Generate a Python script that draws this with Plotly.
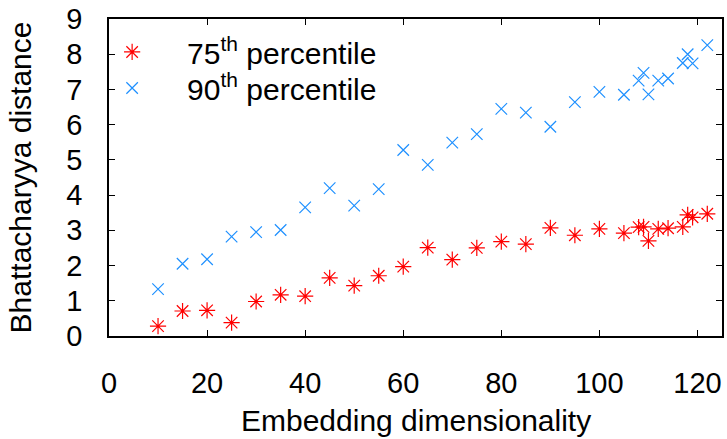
import plotly.graph_objects as go

dims = [10, 15, 20, 25, 30, 35, 40, 45, 50, 55, 60, 65, 70, 75, 80, 85, 90, 95,
        100, 105, 108, 109, 110, 112, 114, 117, 118, 119, 122]
p75 = [0.28, 0.71, 0.73, 0.38, 0.98, 1.17, 1.13, 1.65, 1.43, 1.71, 1.97, 2.51,
       2.17, 2.50, 2.68, 2.61, 3.07, 2.86, 3.04, 2.92, 3.09, 3.10, 2.70, 3.04,
       3.06, 3.10, 3.44, 3.37, 3.47]
p90 = [1.33, 2.05, 2.18, 2.82, 2.95, 3.01, 3.65, 4.20, 3.70, 4.17, 5.28, 4.86,
       5.49, 5.73, 6.45, 6.34, 5.94, 6.64, 6.93, 6.85, 7.25, 7.47, 6.86, 7.25,
       7.31, 7.75, 8.00, 7.74, 8.26]

x_ticks = [0, 20, 40, 60, 80, 100, 120]
y_ticks = list(range(0, 10))
x_title = "Embedding dimensionality"
y_title = "Bhattacharyya distance"

FONT = "Liberation Sans, Arial, sans-serif"

fig = go.Figure()
fig.add_trace(go.Scatter(
    x=dims, y=p75, mode="markers", name="75<sup>th</sup> percentile",
    legend="legend",
    marker=dict(symbol="asterisk-open", size=13.5, color="#ff0000",
                line=dict(color="#ff0000", width=1.2)),
))
fig.add_trace(go.Scatter(
    x=dims, y=p90, mode="markers", name="90<sup>th</sup> percentile",
    legend="legend2",
    marker=dict(symbol="x-thin-open", size=11.5, color="#1e90ff",
                line=dict(color="#1e90ff", width=1.2)),
))

axis_common = dict(
    showline=True, linecolor="black", linewidth=1.5, mirror="ticks",
    ticks="inside", ticklen=6, tickwidth=1, tickcolor="black",
    showgrid=False, zeroline=False, automargin=False,
    tickfont=dict(family=FONT, size=29, color="black"),
)

legend_common = dict(
    xanchor="left", yanchor="top", bgcolor="rgba(0,0,0,0)", borderwidth=0,
    itemwidth=100, font=dict(family=FONT, size=30, color="black"),
)

fig.update_layout(
    width=727, height=439,
    margin=dict(l=109, r=5, t=19, b=103, autoexpand=False),
    paper_bgcolor="white", plot_bgcolor="white",
    font=dict(family=FONT, color="black"),
    xaxis=dict(range=[0, 125], tickvals=x_ticks, ticklabelstandoff=20,
               **axis_common),
    yaxis=dict(range=[0, 9], tickvals=y_ticks, ticklabelstandoff=19,
               title=dict(text=y_title, standoff=26,
                          font=dict(family=FONT, size=30, color="black")),
               **axis_common),
    legend=dict(x=-0.052, y=0.978, **legend_common),
    legend2=dict(x=-0.052, y=0.8645, **legend_common),
    showlegend=True,
    annotations=[dict(
        text=x_title, xref="paper", yref="paper", x=0.5, y=-0.266,
        xanchor="center", yanchor="middle", showarrow=False,
        font=dict(family=FONT, size=30, color="black"),
    )],
)

fig.write_html("out.html")
